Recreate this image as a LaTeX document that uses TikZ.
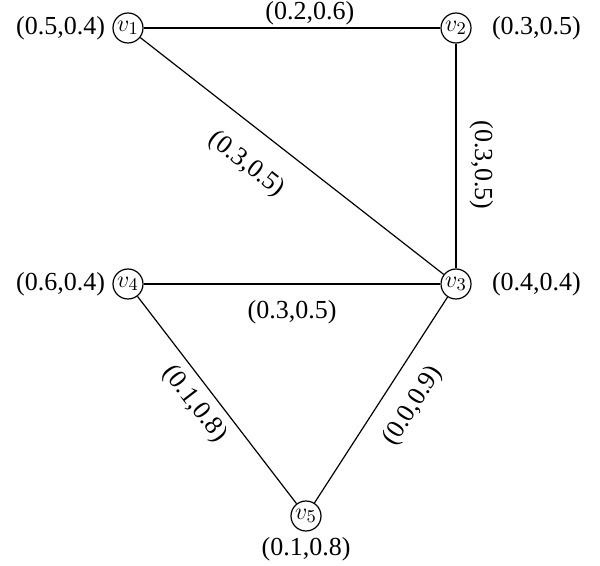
\documentclass[tikz,border=0pt]{standalone}
\usepackage{fontspec}
\setmainfont{Liberation Serif}
\usetikzlibrary{positioning,calc}
\tikzset{
  vtx/.style={circle,draw,line width=0.6pt,minimum size=15pt,inner sep=0pt,font=\fontsize{13}{15}\selectfont},
  edge/.style={line width=0.6pt},
  wlab/.style={inner sep=2pt,font=\fontsize{13}{15}\selectfont},
  plab/.style={inner sep=2pt,font=\fontsize{13}{15}\selectfont}
}
\begin{document}
\begin{tikzpicture}[x=0.5pt,y=-0.5pt]
\useasboundingbox (0,0) rectangle (600,566);
% vertices
\node[vtx] (v1) at (128,28) {$v_1$};
\node[vtx] (v2) at (456,28) {$v_2$};
\node[vtx] (v3) at (456,284) {$v_3$};
\node[vtx] (v4) at (128,284) {$v_4$};
\node[vtx] (v5) at (306,516) {$v_5$};
% vertex weights
\node[plab,left=1.5pt of v1] (p1) {(0.5,0.4)};
\node[plab,right=8pt of v2] (p2) {(0.3,0.5)};
\node[plab,right=8pt of v3] (p3) {(0.4,0.4)};
\node[plab,left=1.5pt of v4] (p4) {(0.6,0.4)};
\node[plab,below=0.5pt of v5] (p5) {(0.1,0.8)};
% edges
\draw[edge] (v1) -- node[wlab,pos=.56,above=-1pt] (e12) {(0.2,0.6)} (v2);
\draw[edge] (v1) -- node[wlab,pos=.42,sloped,below=9pt] (e13) {(0.3,0.5)} (v3);
\draw[edge] (v2) -- node[wlab,pos=.54,xshift=4.5pt,rotate=-90,anchor=south] (e23) {(0.3,0.5)} (v3);
\draw[edge] (v4) -- node[wlab,midway,below=6pt] (e43) {(0.3,0.5)} (v3);
\draw[edge] (v4) -- node[wlab,pos=.46,sloped,below=2pt] (e45) {(0.1,0.8)} (v5);
\draw[edge] (v5) -- node[wlab,pos=.55,sloped,below=7pt] (e53) {(0.0,0.9)} (v3);
\end{tikzpicture}
\end{document}
